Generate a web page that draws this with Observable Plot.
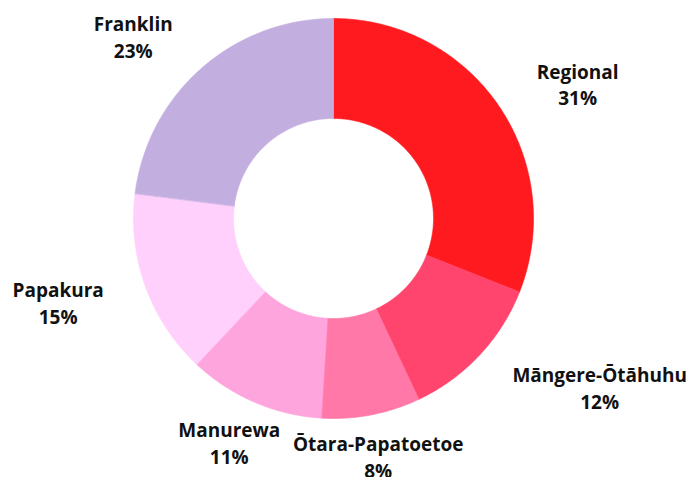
<!DOCTYPE html>
<html>
<head>
<meta charset="utf-8">
<script src="https://cdn.jsdelivr.net/npm/d3@7"></script>
<script src="https://cdn.jsdelivr.net/npm/@observablehq/plot@0.6"></script>
<style>
  html, body { margin: 0; padding: 0; background: #fff; }
  #chart { width: 692px; height: 477px; overflow: hidden; }
</style>
</head>
<body>
<div id="chart"></div>
<script>
// ---- Data ----
const categories = ["Regional", "Māngere-Ōtāhuhu", "Ōtara-Papatoetoe", "Manurewa", "Papakura", "Franklin"];
const shares = [31, 12, 8, 11, 15, 23];
const colors = ["#ff1a1f", "#ff456e", "#ff78a8", "#ffa5dd", "#ffd0fc", "#c3aee0"];

// ---- Layout (not data) ----
const outerR = 200, innerR = 100, labelR = 265;
// small label nudges in px (dx right, dy down)
const labelNudge = [[25, 14], [73, -13], [-5, -23], [1, -20], [-26, -6], [-25, 16]];

const total = d3.sum(shares);
const pie = d3.pie().sort(null).value(d => d)(shares);

const pts = [];
const labels = [];
pie.forEach((p, i) => {
  const a0 = p.startAngle, a1 = p.endAngle;
  const n = Math.max(8, Math.ceil((a1 - a0) / 0.01));
  for (let k = 0; k <= n; k++) {
    const a = a0 + (a1 - a0) * k / n;
    pts.push({key: categories[i], x: outerR * Math.sin(a), y: outerR * Math.cos(a)});
  }
  for (let k = n; k >= 0; k--) {
    const a = a0 + (a1 - a0) * k / n;
    pts.push({key: categories[i], x: innerR * Math.sin(a), y: innerR * Math.cos(a)});
  }
  const m = (a0 + a1) / 2;
  labels.push({
    x: labelR * Math.sin(m) + labelNudge[i][0],
    y: labelR * Math.cos(m) - labelNudge[i][1],
    text: `${categories[i]}\n${Math.round(shares[i] / total * 100)}%`
  });
});

const chart = Plot.plot({
  width: 692,
  height: 477,
  margin: 0,
  x: {domain: [-333, 359], axis: null},
  y: {domain: [-259, 218], axis: null},
  color: {domain: categories, range: colors},
  style: {background: "#fff"},
  marks: [
    Plot.line(pts, {x: "x", y: "y", z: "key", fill: "key", stroke: "key", strokeWidth: 0.6, curve: "linear-closed"}),
    Plot.text(labels, {
      x: "x", y: "y", text: "text",
      fontFamily: "Open Sans", fontWeight: 700, fontSize: 19,
      lineHeight: 1.4, fill: "#111", textAnchor: "middle", lineAnchor: "middle"
    })
  ]
});
document.getElementById("chart").appendChild(chart);
</script>
</body>
</html>
